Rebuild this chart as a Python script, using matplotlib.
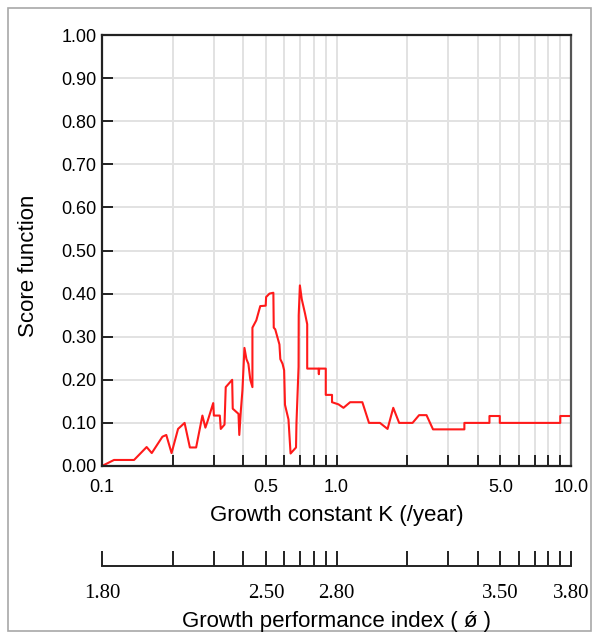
import numpy as np
import matplotlib
matplotlib.use("Agg")
import matplotlib.pyplot as plt
from matplotlib.ticker import FixedLocator, NullFormatter
from matplotlib.patches import Rectangle

plt.rcParams['font.family'] = ['Liberation Sans', 'DejaVu Sans']

# growth constant K (/year) and score function
k_values = [0.100, 0.1125, 0.137, 0.155, 0.163, 0.181, 0.188, 0.198, 0.211, 0.225,
            0.237, 0.252, 0.268, 0.276, 0.282, 0.298, 0.300, 0.318, 0.321, 0.333,
            0.337, 0.359, 0.361, 0.382, 0.385, 0.391, 0.397, 0.405, 0.413, 0.421,
            0.429, 0.438, 0.438, 0.455, 0.473, 0.499, 0.501, 0.518, 0.538, 0.540,
            0.548, 0.571, 0.576, 0.589, 0.598, 0.603, 0.624, 0.637, 0.672, 0.675,
            0.689, 0.690, 0.698, 0.711, 0.734, 0.750, 0.750, 0.838, 0.841, 0.844,
            0.900, 0.900, 0.957, 0.957, 1.02, 1.071, 1.143, 1.289, 1.376, 1.532,
            1.651, 1.746, 1.85, 2.11, 2.25, 2.42, 2.58, 3.51, 3.51, 4.49,
            4.49, 4.97, 4.97, 9.0, 9.0, 10.0]
score_values = [0.000, 0.014, 0.014, 0.044, 0.030, 0.068, 0.072, 0.030, 0.086, 0.100,
                0.043, 0.043, 0.117, 0.089, 0.104, 0.146, 0.117, 0.117, 0.086, 0.096,
                0.183, 0.200, 0.133, 0.121, 0.072, 0.129, 0.175, 0.274, 0.248, 0.237,
                0.200, 0.183, 0.321, 0.338, 0.371, 0.372, 0.392, 0.400, 0.402, 0.321,
                0.317, 0.282, 0.248, 0.237, 0.222, 0.142, 0.108, 0.029, 0.043, 0.100,
                0.230, 0.350, 0.419, 0.387, 0.354, 0.329, 0.226, 0.226, 0.213, 0.226,
                0.226, 0.165, 0.165, 0.148, 0.143, 0.135, 0.148, 0.148, 0.100, 0.100,
                0.086, 0.135, 0.100, 0.100, 0.118, 0.118, 0.085, 0.085, 0.100, 0.100,
                0.116, 0.116, 0.100, 0.100, 0.116, 0.116]

k_major = [0.1, 0.5, 1.0, 5.0, 10.0]
k_major_labels = ['0.1', '0.5', '1.0', '5.0', '10.0']
k_minor = [0.2, 0.3, 0.4, 0.6, 0.7, 0.8, 0.9, 2, 3, 4, 6, 7, 8, 9]
phi_labels = ['1.80', '2.50', '2.80', '3.50', '3.80']
y_ticks = np.round(np.arange(0, 1.01, 0.1), 2)

fig = plt.figure(figsize=(5.98, 6.34), dpi=100)
fig.patches.append(Rectangle((8 / 598, 1 - 631 / 634), 583 / 598, 623 / 634,
                             transform=fig.transFigure, fill=False,
                             edgecolor='#a8a8a8', lw=1.2))

ax = fig.add_axes([102 / 598, 1 - 466 / 634, 469 / 598, 431 / 634])
ax.plot(k_values, score_values, color='#ff1a1a', lw=1.5)
ax.set_xscale('log')
ax.set_xlim(0.1, 10)
ax.set_ylim(0, 1)

ax.xaxis.set_major_locator(FixedLocator(k_major))
ax.set_xticklabels(k_major_labels)
ax.xaxis.set_minor_locator(FixedLocator(k_minor))
ax.xaxis.set_minor_formatter(NullFormatter())
ax.set_yticks(y_ticks)
ax.set_yticklabels(['%.2f' % v for v in y_ticks])

ax.tick_params(axis='both', which='both', direction='in', length=8, width=1.4,
               labelsize=13, color='#222222')
ax.tick_params(axis='x', which='both', pad=9)
ax.tick_params(axis='y', pad=4)
ax.grid(True, which='both', color='#e2e2e2', lw=1.4)
ax.set_axisbelow(True)
for sp in ax.spines.values():
    sp.set_linewidth(1.6)
    sp.set_color('#222222')
ax.spines['right'].set_color('#555555')

ax.set_xlabel('Growth constant K (/year)', fontsize=16)
ax.xaxis.set_label_coords(0.5, -0.09)
ax.set_ylabel('Score function', fontsize=16)
ax.yaxis.set_label_coords(-0.135, 0.464)

# second axis: growth performance index
ax2 = fig.add_axes([102 / 598, 1 - 566 / 634, 469 / 598, 0.001])
ax2.set_xscale('log')
ax2.set_xlim(0.1, 10)
ax2.set_yticks([])
for s in ['top', 'left', 'right']:
    ax2.spines[s].set_visible(False)
ax2.spines['bottom'].set_linewidth(1.4)
ax2.spines['bottom'].set_color('#222222')
ax2.patch.set_visible(False)
ax2.xaxis.set_major_locator(FixedLocator(k_major))
ax2.set_xticklabels(phi_labels, family=['Liberation Serif', 'DejaVu Serif'], fontsize=15)
ax2.xaxis.set_minor_locator(FixedLocator(k_minor))
ax2.xaxis.set_minor_formatter(NullFormatter())
ax2.tick_params(axis='x', which='both', direction='in', length=11, width=1.4,
                color='#222222', pad=13)
fig.text(336.5 / 598, 1 - 622 / 634, 'Growth performance index ( \u01ff )',
         fontsize=16, ha='center', va='center')

fig.savefig('out.png', dpi=100)
